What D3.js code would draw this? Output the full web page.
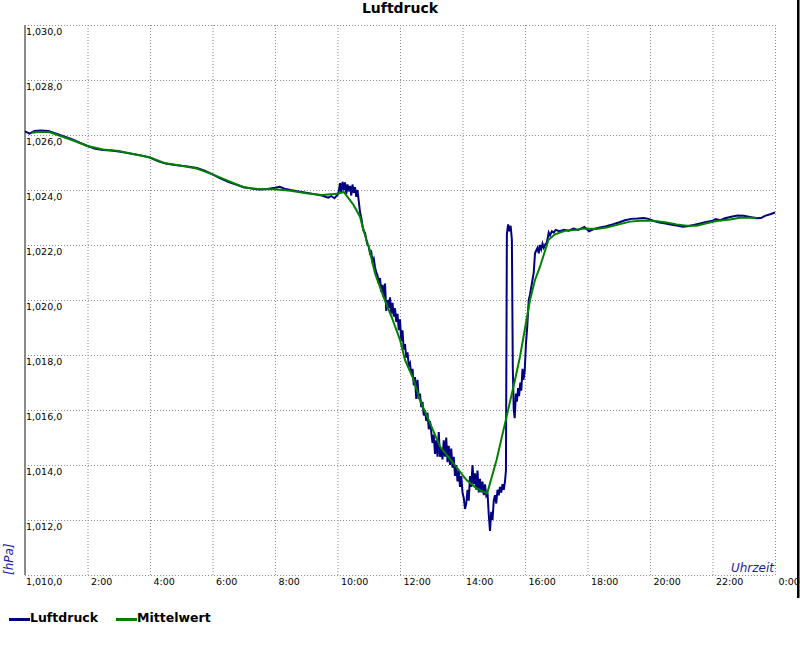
<!DOCTYPE html>
<html><head><meta charset="utf-8">
<script src="https://cdn.jsdelivr.net/npm/d3@7"></script>
<style>
body{margin:0;background:#fff}
svg{display:block;font-family:"DejaVu Sans",Verdana,sans-serif}
</style>
</head><body>
<svg id="c" width="800" height="650"></svg>
<script>
const titel = "Luftdruck";
const xTitel = "Uhrzeit";
const yTitel = "[hPa]";
const serienNamen = ["Luftdruck", "Mittelwert"];

// Luftdruck (Rohdaten): Uhrzeit in Stunden, Werte in hPa
const luftStunden = [
 0.00,0.15,0.30,0.50,0.75,1.00,1.25,1.50,1.75,2.00,2.25,2.50,2.75,3.00,3.25,3.50,3.75,4.00,4.25,4.50,4.75,5.00,5.25,5.50,5.75,6.00,6.25,6.50,6.75,7.00,7.25,7.50,7.75,8.00,8.15,8.30,8.50,8.75,9.00,9.25,9.50,9.70,9.80,9.90,10.00,
 10.04,10.08,10.12,10.16,10.20,10.24,10.28,10.32,10.36,10.40,10.44,10.48,10.52,10.56,10.60,10.64,10.68,10.72,10.76,10.80,10.84,10.88,10.92,10.96,
 11.00,11.04,11.08,11.12,11.16,11.20,11.24,11.28,11.32,11.36,11.40,11.44,11.48,11.52,11.56,11.60,11.64,11.68,11.72,11.76,11.80,11.84,11.88,11.92,11.96,
 12.00,12.04,12.08,12.12,12.16,12.20,12.24,12.28,12.32,12.36,12.40,12.44,12.48,12.52,12.56,12.60,12.64,12.68,12.72,12.76,12.80,12.84,12.88,12.92,12.96,
 13.00,13.04,13.08,13.12,13.16,13.20,13.24,13.28,13.32,13.36,13.40,13.44,13.48,13.52,13.56,13.60,13.64,13.68,13.72,13.76,13.80,13.84,13.88,13.92,13.96,
 14.00,14.04,14.08,14.12,14.16,14.20,14.24,14.28,14.32,14.36,14.40,14.44,14.48,14.52,14.56,14.60,14.64,14.68,14.72,14.76,14.80,14.84,14.88,14.92,14.96,
 15.00,15.04,15.08,15.12,15.16,15.20,15.24,15.28,15.32,15.36,15.39,15.42,15.46,15.50,15.54,15.58,15.61,15.64,15.67,15.71,15.74,15.78,15.81,15.85,15.88,15.92,15.95,15.99,
 16.03,16.07,16.12,16.16,16.22,16.28,16.32,16.36,16.40,16.44,16.48,16.52,16.56,16.60,16.64,16.70,16.76,16.80,16.86,16.92,16.98,
 17.10,17.25,17.40,17.55,17.70,17.90,18.05,18.20,18.40,18.60,18.80,19.00,19.20,19.40,19.60,19.80,19.95,20.10,20.30,20.50,20.70,20.90,21.05,21.20,21.40,21.60,21.80,22.00,22.10,22.25,22.40,22.60,22.80,23.00,23.20,23.40,23.55,23.70,23.85,24.00
];
const luftWerte = [
 1026.13,1026.05,1026.15,1026.16,1026.15,1026.05,1025.95,1025.85,1025.72,1025.60,1025.50,1025.45,1025.44,1025.40,1025.35,1025.30,1025.25,1025.18,1025.05,1024.96,1024.92,1024.88,1024.85,1024.80,1024.70,1024.57,1024.42,1024.30,1024.20,1024.10,1024.05,1024.02,1024.04,1024.08,1024.12,1024.05,1024.00,1023.95,1023.90,1023.85,1023.80,1023.72,1023.78,1023.70,1023.82,
 1023.95,1024.25,1023.90,1024.30,1024.00,1024.28,1023.85,1024.20,1023.95,1024.15,1023.80,1024.20,1023.90,1024.10,1023.75,1024.00,1023.60,1023.20,1023.00,1022.70,1022.50,1022.45,1022.20,1022.00,
 1021.95,1021.70,1021.75,1021.40,1021.50,1021.20,1021.00,1020.90,1020.60,1020.80,1020.30,1020.55,1020.10,1020.60,1019.60,1020.00,1019.70,1020.10,1019.50,1019.90,1019.40,1019.70,1019.20,1019.50,1018.90,
 1019.30,1018.50,1018.90,1018.20,1018.40,1017.90,1018.10,1017.60,1017.70,1017.30,1017.50,1016.90,1017.20,1016.40,1017.10,1016.40,1016.60,1016.10,1016.30,1015.80,1016.00,1015.60,1015.90,1015.30,1015.60,
 1015.20,1014.80,1015.10,1014.40,1014.90,1014.30,1015.20,1014.30,1014.60,1014.20,1014.90,1014.30,1015.00,1014.10,1014.70,1014.00,1014.60,1013.90,1014.30,1013.60,1014.00,1013.40,1013.80,1013.20,1013.60,
 1013.00,1012.80,1012.40,1012.60,1013.10,1012.70,1013.60,1013.20,1014.00,1013.30,1013.70,1013.10,1013.80,1013.00,1013.50,1013.00,1013.40,1012.90,1013.30,1012.90,1013.00,1012.20,1011.60,1012.30,1012.00,
 1012.70,1012.90,1012.60,1013.10,1012.90,1013.20,1013.00,1013.30,1013.10,1013.40,1013.80,1022.40,1022.75,1022.50,1022.70,1022.20,1017.50,1016.00,1015.70,1016.60,1016.30,1016.80,1016.50,1017.00,1016.70,1017.50,1017.10,1017.40,
 1018.40,1019.00,1020.00,1020.20,1020.60,1021.00,1021.70,1021.80,1021.90,1021.70,1022.00,1021.85,1022.05,1021.90,1022.00,1022.10,1022.45,1022.35,1022.50,1022.45,1022.55,
 1022.50,1022.55,1022.52,1022.60,1022.55,1022.66,1022.50,1022.58,1022.64,1022.68,1022.75,1022.82,1022.90,1022.95,1022.96,1022.98,1022.95,1022.88,1022.82,1022.78,1022.74,1022.70,1022.66,1022.68,1022.73,1022.78,1022.84,1022.88,1022.94,1022.90,1022.97,1023.03,1023.07,1023.06,1023.02,1022.97,1022.98,1023.07,1023.12,1023.18
];

// Mittelwert
const mittelStunden = [
 0.20,0.50,0.80,1.00,1.50,2.00,2.50,3.00,3.50,4.00,4.50,5.00,5.50,6.00,6.50,7.00,7.50,8.00,8.50,9.00,9.50,10.00,10.20,10.50,10.72,10.83,10.93,11.00,11.15,11.20,11.47,11.73,
 12.00,12.16,12.42,12.64,12.96,13.28,13.71,14.13,14.45,14.79,15.09,15.41,15.68,15.84,16.16,16.32,16.48,16.75,16.80,16.96,17.28,17.65,17.87,18.29,18.61,19.04,19.36,19.68,
 20.10,20.53,20.85,21.17,21.49,21.81,22.13,22.56,22.88,23.39
];
const mittelWerte = [
 1026.08,1026.12,1026.10,1026.02,1025.82,1025.60,1025.47,1025.42,1025.30,1025.18,1024.97,1024.88,1024.78,1024.57,1024.33,1024.10,1024.03,1024.03,1023.97,1023.88,1023.82,1023.86,1023.93,1023.48,1023.03,1022.55,1022.18,1021.94,1021.21,1020.97,1020.12,1019.39,
 1018.55,1017.82,1017.15,1016.36,1015.52,1014.67,1014.06,1013.45,1013.15,1012.97,1014.18,1015.76,1017.09,1017.94,1020.00,1020.73,1021.21,1022.18,1022.24,1022.39,1022.52,1022.55,1022.60,1022.58,1022.64,1022.76,1022.85,1022.88,
 1022.88,1022.82,1022.75,1022.70,1022.70,1022.79,1022.87,1022.93,1022.99,1022.99
];

const xTickStunden = [2,4,6,8,10,12,14,16,18,20,22,24];
const xTickLabels = ["2:00","4:00","6:00","8:00","10:00","12:00","14:00","16:00","18:00","20:00","22:00","0:00"];
const yTicks = [1010,1012,1014,1016,1018,1020,1022,1024,1026,1028,1030];

const farbeLuft = "#000080";
const farbeMittel = "#008000";
const farbeAchsTitel = "#1c1ca8";

const svg = d3.select("#c");
const x = d3.scaleLinear().domain([0,24]).range([25,775]);
const y = d3.scaleLinear().domain([1010,1030]).range([575,25]);
const loc = d3.formatLocale({decimal:",", thousands:",", grouping:[3], currency:["",""]});
const fmt = loc.format(",.1f");

// Y axis / horizontal grid
const gy = svg.append("g").attr("transform","translate(25,0)")
  .call(d3.axisLeft(y).tickValues(yTicks).tickSize(-750).tickFormat(fmt));
gy.select(".domain").remove();
gy.selectAll(".tick line").attr("stroke","#8a8a8a").attr("stroke-dasharray","1,2");
gy.selectAll(".tick text").attr("x",1).attr("y",9.5).attr("dy",0)
  .attr("text-anchor","start").attr("fill","#000").style("font-size","9.5px")
  .style("font-family","'DejaVu Sans',Verdana,sans-serif");

// X axis / vertical grid
const gx = svg.append("g").attr("transform","translate(0,575)")
  .call(d3.axisBottom(x).tickValues(xTickStunden).tickSize(-550).tickFormat((d,i)=>xTickLabels[i]));
gx.select(".domain").remove();
gx.selectAll(".tick line").attr("stroke","#8a8a8a").attr("stroke-dasharray","1,2");
gx.selectAll(".tick text").attr("x",3).attr("y",9.5).attr("dy",0)
  .attr("text-anchor","start").attr("fill","#000").style("font-size","9.5px")
  .style("font-family","'DejaVu Sans',Verdana,sans-serif");

// left solid axis line
svg.append("line").attr("x1",x(0)).attr("x2",x(0)).attr("y1",y(1030)).attr("y2",y(1010))
  .attr("stroke","#8a8a8a").attr("stroke-width",2);

// data lines
const luftDaten = luftStunden.map((h,i)=>({h, v: luftWerte[i]}));
const mittelDaten = mittelStunden.map((h,i)=>({h, v: mittelWerte[i]}));
const line = d3.line().x(d=>x(d.h)).y(d=>y(d.v));

svg.append("path").datum(luftDaten).attr("d",line)
  .attr("fill","none").attr("stroke",farbeLuft).attr("stroke-width",2).attr("stroke-linejoin","miter");
svg.append("path").datum(mittelDaten).attr("d",line)
  .attr("fill","none").attr("stroke",farbeMittel).attr("stroke-width",2);

// Title
svg.append("text").attr("x",400).attr("y",13).attr("text-anchor","middle")
  .style("font-size","14px").style("font-weight","bold").text(titel);

// axis titles
svg.append("text").attr("transform","translate(12.5,575) rotate(-90)")
  .attr("text-anchor","start").attr("fill",farbeAchsTitel)
  .style("font-size","12px").style("font-style","italic").text(yTitel);
svg.append("text").attr("x",774).attr("y",572).attr("text-anchor","end")
  .attr("fill",farbeAchsTitel).style("font-size","12px").style("font-style","italic").text(xTitel);

// Legend
const leg = [{n:serienNamen[0], c:farbeLuft, x:9},{n:serienNamen[1], c:farbeMittel, x:116}];
leg.forEach(l=>{
  svg.append("line").attr("x1",l.x).attr("x2",l.x+21).attr("y1",619.5).attr("y2",619.5)
    .attr("stroke",l.c).attr("stroke-width",3);
  svg.append("text").attr("x",l.x+21).attr("y",622).style("font-size","12.5px")
    .style("font-weight","bold").attr("fill","#000").text(l.n);
});

// right black border bar
svg.append("rect").attr("x",797).attr("y",0).attr("width",2.5).attr("height",598).attr("fill","#000");
</script>
</body></html>
